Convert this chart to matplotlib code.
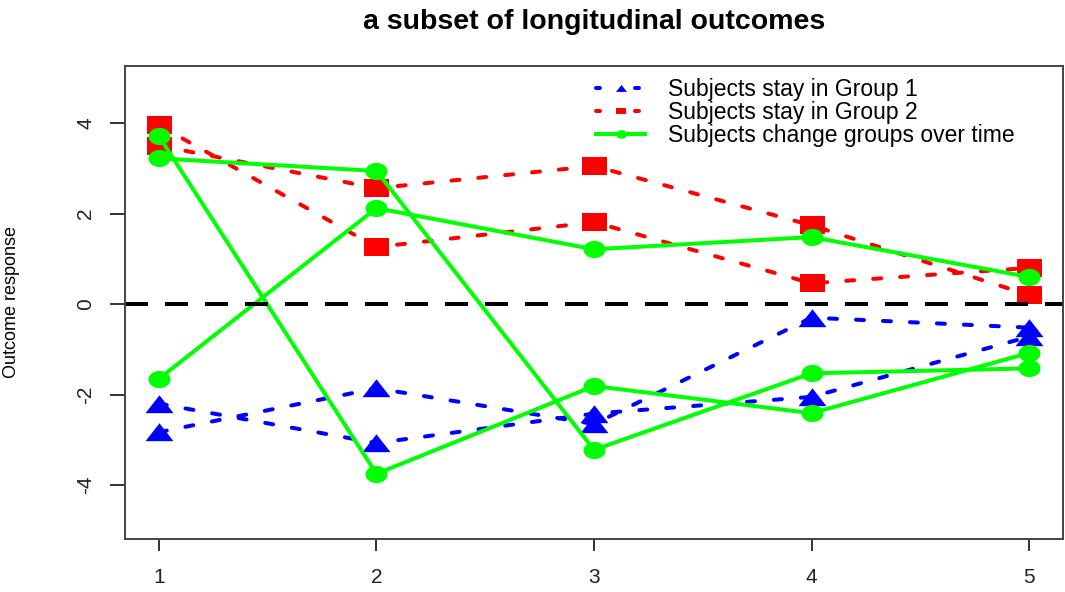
import numpy as np
import matplotlib
matplotlib.use("Agg")
import matplotlib.pyplot as plt
from matplotlib.path import Path
from matplotlib.lines import Line2D

plt.rcParams['font.family'] = ['Liberation Sans', 'DejaVu Sans']
plt.rcParams['lines.scale_dashes'] = False

# Measurement occasions
times = [1, 2, 3, 4, 5]

# Subjects staying in group 1
stay1_a = [-2.20, -3.07, -2.42, -2.05, -0.72]
stay1_b = [-2.83, -1.86, -2.65, -0.30, -0.52]

# Subjects staying in group 2
stay2_a = [3.95, 1.26, 1.81, 0.46, 0.80]
stay2_b = [3.50, 2.56, 3.05, 1.74, 0.20]

# Subjects that switch groups
change_a = [3.71, -3.75, -1.81, -2.41, -1.08]
change_b = [3.22, 2.94, -3.22, -1.53, -1.42]
change_c = [-1.65, 2.12, 1.21, 1.48, 0.60]

yticks = [-4, -2, 0, 2, 4]
legend_labels = ["Subjects stay in Group 1",
                 "Subjects stay in Group 2",
                 "Subjects change groups over time"]

# slightly wide markers
tri = Path([(-1, -0.62), (1, -0.62), (0, 0.66), (-1, -0.62)],
           [Path.MOVETO, Path.LINETO, Path.LINETO, Path.CLOSEPOLY])
sq = Path([(-1, -0.7), (1, -0.7), (1, 0.7), (-1, 0.7), (-1, -0.7)],
          [Path.MOVETO, Path.LINETO, Path.LINETO, Path.LINETO, Path.CLOSEPOLY])
t = np.linspace(0, 2 * np.pi, 60)
ell = Path(np.column_stack([np.cos(t), 0.78 * np.sin(t)]), closed=True)

px = 72 / 100.0
lw = 4 * px
short_dash = (8 * px, 19 * px)
legend_dash = (4 * px, 35 * px)

fig = plt.figure(figsize=(10.65, 5.92), dpi=100)
ax = fig.add_axes([125 / 1065, 53 / 592, 938 / 1065, 473 / 592])

for ys in (stay1_a, stay1_b):
    ax.plot(times, ys, color="#0000FF", lw=lw, dashes=short_dash,
            dash_capstyle="round", marker=tri, ms=28 * px, mew=0)
for ys in (stay2_a, stay2_b):
    ax.plot(times, ys, color="#FF0000", lw=lw, dashes=short_dash,
            dash_capstyle="round", marker=sq, ms=25 * px, mew=0)
for ys in (change_a, change_b, change_c):
    ax.plot(times, ys, color="#00FF00", lw=lw, solid_capstyle="round",
            marker=ell, ms=22 * px, mew=0)

ax.axhline(0, color="black", lw=lw, dashes=(23 * px, 17 * px))

ax.set_xlim(0.844, 5.156)
ax.set_ylim(-5.19, 5.26)
ax.set_xticks(times)
ax.set_yticks(yticks)
ax.set_yticklabels([str(v) for v in yticks], rotation=90, va="center")
ax.tick_params(axis="y", length=15 * px, width=1.3, pad=15 * px,
               labelsize=15, colors="#222222")
ax.tick_params(axis="x", length=12 * px, width=1.3, pad=17 * px,
               labelsize=15, colors="#222222")
for sp in ax.spines.values():
    sp.set_color("#444444")
    sp.set_linewidth(1.4)

ax.set_ylabel("Outcome response", fontsize=13)
ax.yaxis.set_label_coords(-(125 - 20) / 938, 0.5)

fig.text(594 / 1065, 1 - 22 / 592, "a subset of longitudinal outcomes",
         ha="center", va="center", fontsize=20.5, fontweight="bold")

handles = [
    Line2D([], [], color="#0000FF", lw=lw, dashes=legend_dash,
           dash_capstyle="round", marker=tri, ms=11 * px, mew=0),
    Line2D([], [], color="#FF0000", lw=lw, dashes=legend_dash,
           dash_capstyle="round", marker=sq, ms=10 * px, mew=0),
    Line2D([], [], color="#00FF00", lw=lw, marker=ell, ms=11 * px, mew=0),
]
ax.legend(handles, legend_labels, loc="upper left",
          bbox_to_anchor=((596 - 125) / 938, (539 - 78) / 473),
          frameon=False, fontsize=16.5, handlelength=2.15, handletextpad=1.0,
          labelspacing=0.0, borderpad=0, borderaxespad=0)

fig.savefig("out.png", dpi=100)
